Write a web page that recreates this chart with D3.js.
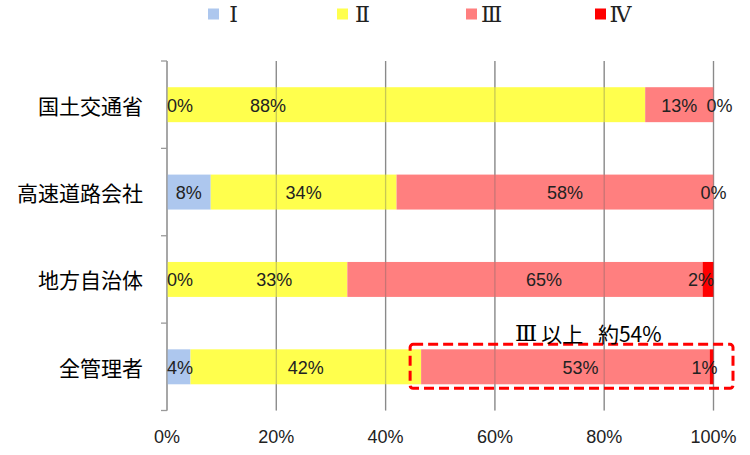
<!DOCTYPE html>
<html><head><meta charset="utf-8">
<script src="https://cdn.jsdelivr.net/npm/d3@7"></script>
<style>
html,body{margin:0;padding:0;background:#fff;}
svg{display:block;}
</style></head>
<body>
<svg id="chart" width="750" height="455"></svg>
<script>
// ---- data ----
const categories = ["国土交通省", "高速道路会社", "地方自治体", "全管理者"];
const seriesNames = ["Ⅰ", "Ⅱ", "Ⅲ", "Ⅳ"];
const valuesI   = [0,     0.08, 0,    0.043];
const valuesII  = [0.875, 0.34, 0.33, 0.422];
const valuesIII = [0.125, 0.58, 0.65, 0.528];
const valuesIV  = [0,     0,    0.02, 0.007];
const xTickValues = [0, 0.2, 0.4, 0.6, 0.8, 1.0];
const annotationParts = ["Ⅲ", "以上 ", "約54%"];
const annotatedCategory = "全管理者";

(function () {
// ---- style ----
const colors = ["#adc7ee", "#ffff4d", "#ff7f7f", "#ff0000"];
const numFont = "'Liberation Sans', Arial, sans-serif";
const jpFont = "'Noto Sans CJK JP', sans-serif";
const romanFont = "'DejaVu Serif', 'Liberation Serif', serif";

const svg = d3.select("#chart");
const pL = 167, pR = 713.5, pT = 61, pB = 410.5;

const x = d3.scaleLinear().domain([0, 1]).range([pL, pR]);
const y = d3.scaleBand().domain(categories).range([pT, pB]).paddingInner(0.6).paddingOuter(0.3);

const seriesValues = [valuesI, valuesII, valuesIII, valuesIV];
const rows = categories.map((c, i) => {
  const r = { cat: c };
  seriesNames.forEach((s, j) => r[s] = seriesValues[j][i]);
  return r;
});
const stacked = d3.stack().keys(seriesNames)(rows);

// gridlines (under)
svg.append("g").selectAll("line").data(xTickValues).join("line")
  .attr("x1", d => x(d)).attr("x2", d => x(d))
  .attr("y1", pT).attr("y2", pB)
  .attr("stroke", "#a0a0a0").attr("stroke-width", 1.3);

// bars
stacked.forEach((layer, j) => {
  svg.append("g").attr("fill", colors[j])
    .selectAll("rect").data(layer).join("rect")
    .attr("x", d => x(d[0]))
    .attr("width", d => Math.max(0, x(d[1]) - x(d[0])))
    .attr("y", d => y(d.data.cat))
    .attr("height", y.bandwidth());
});

// gridlines (over, faint)
svg.append("g").selectAll("line").data(xTickValues.slice(1)).join("line")
  .attr("x1", d => x(d)).attr("x2", d => x(d))
  .attr("y1", pT).attr("y2", pB)
  .attr("stroke", "#606060").attr("stroke-opacity", 0.35).attr("stroke-width", 1.3);

// y axis line + ticks at band boundaries
svg.append("line").attr("x1", pL).attr("x2", pL).attr("y1", pT).attr("y2", pB)
  .attr("stroke", "#9a9a9a").attr("stroke-width", 1.3);
const stepPx = (pB - pT) / categories.length;
const bounds = d3.range(categories.length + 1).map(i => pT + i * stepPx);
svg.append("g").selectAll("line").data(bounds).join("line")
  .attr("x1", pL - 6).attr("x2", pL).attr("y1", d => d).attr("y2", d => d)
  .attr("stroke", "#9a9a9a").attr("stroke-width", 1.3);

// category labels
svg.append("g").selectAll("text").data(categories).join("text")
  .attr("x", 143).attr("y", d => y(d) + y.bandwidth() / 2)
  .attr("text-anchor", "end").attr("dominant-baseline", "central")
  .attr("font-family", jpFont).attr("font-size", 21).attr("fill", "#000")
  .text(d => d);

// x tick labels
const fmt = d3.format(".0%");
svg.append("g").selectAll("text").data(xTickValues).join("text")
  .attr("x", d => x(d)).attr("y", 437)
  .attr("text-anchor", "middle").attr("dominant-baseline", "central")
  .attr("font-family", numFont).attr("font-size", 18).attr("fill", "#222")
  .text(d => fmt(d));

// data labels (centered; small manual nudges as in the original)
const nudge = {
  "国土交通省|Ⅱ": -138, "国土交通省|Ⅳ": 6,
  "高速道路会社|Ⅲ": 10,
  "地方自治体|Ⅱ": 17, "地方自治体|Ⅲ": 19, "地方自治体|Ⅳ": -7,
  "全管理者|Ⅲ": 15, "全管理者|Ⅳ": -7
};
const labels = svg.append("g");
stacked.forEach((layer, j) => {
  layer.forEach(d => {
    const key = d.data.cat + "|" + seriesNames[j];
    let cx = (x(d[0]) + x(d[1])) / 2 + (nudge[key] || 0);
    const t = labels.append("text")
      .attr("y", y(d.data.cat) + y.bandwidth() / 2 + 1)
      .attr("text-anchor", "middle").attr("dominant-baseline", "central")
      .attr("font-family", numFont).attr("font-size", 18).attr("fill", "#222")
      .text(fmt(d[1] - d[0]));
    const w = t.node().getComputedTextLength();
    if (cx - w / 2 < pL) cx = pL + w / 2;
    t.attr("x", cx);
  });
});

// legend
const legend = svg.append("g");
seriesNames.forEach((s, j) => {
  const lx = 208 + j * 129;
  legend.append("rect").attr("x", lx).attr("y", 8.5).attr("width", 11).attr("height", 11).attr("fill", colors[j]);
  legend.append("text").attr("x", lx + 25.5).attr("y", 14)
    .attr("text-anchor", "middle").attr("dominant-baseline", "central")
    .attr("font-family", romanFont).attr("font-size", 22).attr("fill", "#222")
    .text(s);
});

// annotation box around III+IV of annotated category
const ai = categories.indexOf(annotatedCategory);
const boxX0 = x(stacked[2][ai][0]) - 11;
const boxX1 = x(1) + 19.5;
const boxY0 = y(annotatedCategory) - 5;
const boxY1 = y(annotatedCategory) + y.bandwidth() + 4;
svg.append("rect")
  .attr("x", boxX0).attr("y", boxY0).attr("width", boxX1 - boxX0).attr("height", boxY1 - boxY0)
  .attr("rx", 3).attr("fill", "none").attr("stroke", "#ff0000").attr("stroke-width", 3)
  .attr("stroke-dasharray", "10,5");
const ann = svg.append("text")
  .attr("x", 515).attr("y", boxY0 - 11)
  .attr("dominant-baseline", "central")
  .attr("font-size", 21).attr("fill", "#000");
ann.append("tspan").attr("font-family", romanFont).attr("font-size", 23).text(annotationParts[0]);
ann.append("tspan").attr("font-family", jpFont).attr("dx", 4).text(annotationParts[1]);
ann.append("tspan").attr("font-family", jpFont).attr("dx", 10).text(annotationParts[2]);
})();
</script>
</body></html>
